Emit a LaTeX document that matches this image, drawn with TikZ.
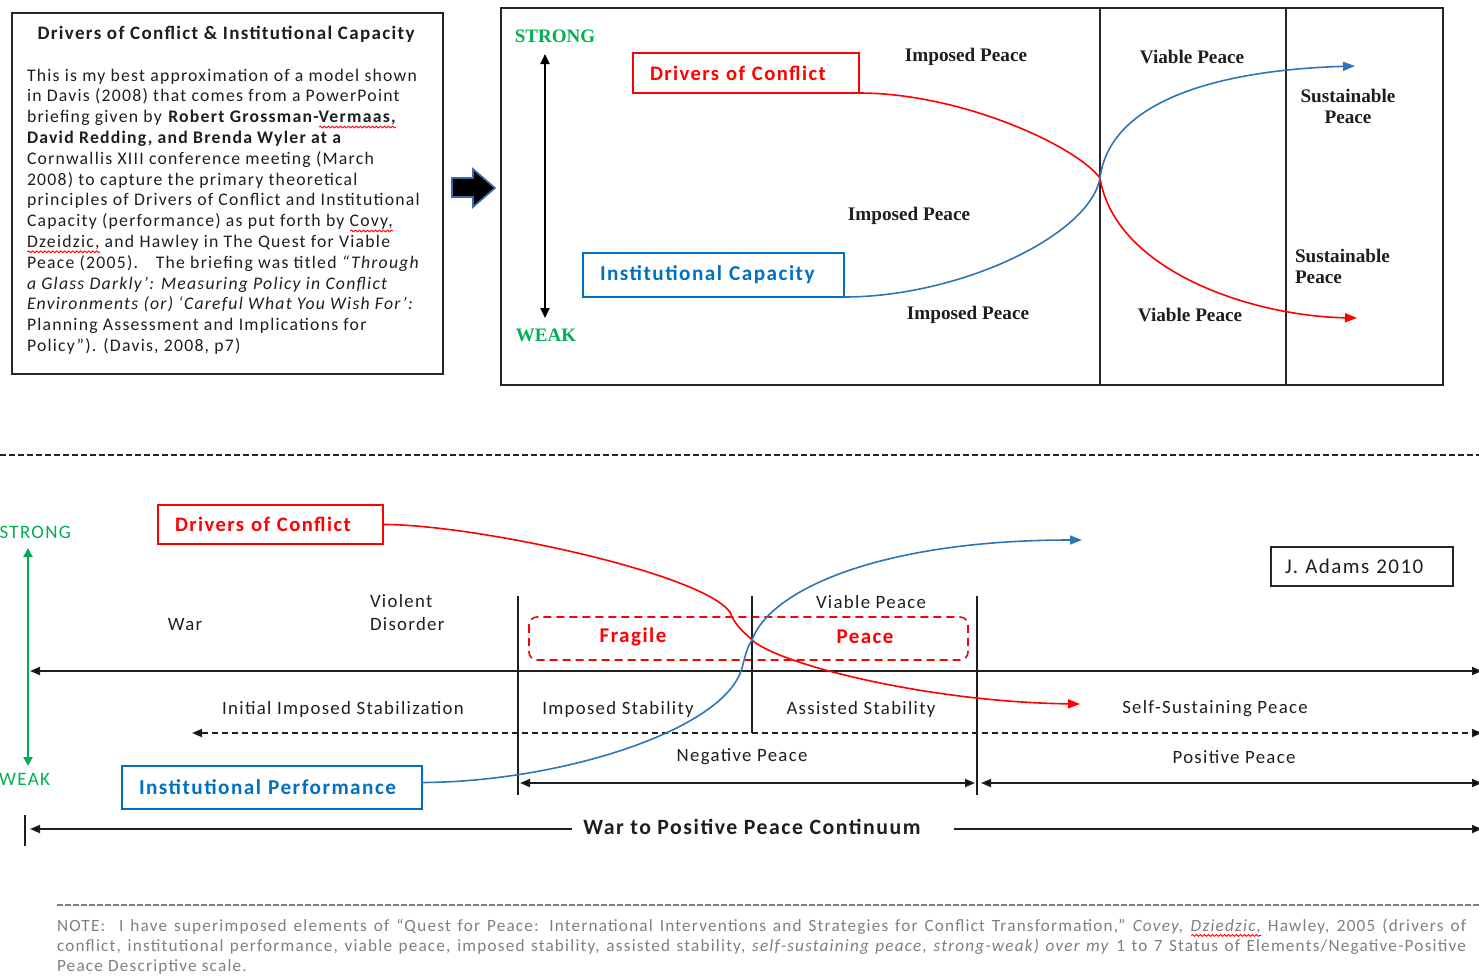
\documentclass[tikz,border=0pt]{standalone}
\usepackage{fontspec}
\setmainfont{Carlito}[LetterSpace=7]
\newfontfamily\tnr{Liberation Serif}
\usetikzlibrary{arrows.meta,decorations.pathmorphing}

\definecolor{rd}{HTML}{FF0000}
\definecolor{bl}{HTML}{0070C0}
\definecolor{blc}{HTML}{2E75B6}
\definecolor{gr}{HTML}{00B050}
\definecolor{ink}{HTML}{1E1E1E}
\definecolor{frame}{HTML}{262626}
\definecolor{notegray}{HTML}{7F7F7F}
\definecolor{arrowblue}{HTML}{3A6BB0}

% red wavy underline, as a spell checker marks a word
\newbox\spellbox
\newdimen\spellwd
\newcommand\spellmark[1]{\leavevmode\setbox\spellbox\hbox{#1}\spellwd=\wd\spellbox
  \rlap{\tikz[baseline=0pt]\draw[rd,line width=0.45pt,decorate,
    decoration={snake,amplitude=0.45pt,segment length=2pt}] (0pt,-2.2pt) -- (\spellwd,-2.2pt);}%
  \box\spellbox}

\begin{document}
\begin{tikzpicture}[x=0.5pt,y=-0.5pt,
  every node/.style={inner sep=0pt, outer sep=0pt},
  framed/.style={draw=frame, line width=1pt},
  lbl/.style={font=\fontsize{9.4}{11.5}\selectfont, text=ink},
  serif/.style={font=\tnr\bfseries\fontsize{9.6}{10.5}\selectfont, text=ink},
  keybox/.style={draw, line width=1pt, align=left, inner xsep=8.5pt, inner ysep=0pt,
    anchor=north west, font=\bfseries\fontsize{10.3}{12}\selectfont},
  redbox/.style={keybox, draw=rd, text=rd},
  bluebox/.style={keybox, draw=bl, text=bl, font=\bfseries\fontsize{10.6}{12}\selectfont},
  curve/.style={line width=0.8pt},
  tip/.style={-{Triangle[length=6pt,width=4.5pt]}},
  blk/.style={draw=ink, line width=0.9pt},
  tri/.tip={Triangle[length=5pt,width=4pt]},
  notetext/.style={anchor=base west, font=\fontsize{8.6}{10}\selectfont, text=notegray},
]
\useasboundingbox (0,0) rectangle (1479,976);

% ---------- explanatory text box ----------
\draw[framed] (12,13) rectangle (443,374);
\node[font=\bfseries\fontsize{9.5}{11}\selectfont, text=ink] (ltitle) at (226,34)
  {Drivers of Conflict \& Institutional Capacity};
\foreach \t [count=\i] in {
  {This is my best approximation of a model  shown},
  {in Davis (2008)  that comes  from  a PowerPoint},
  {briefing  given by  \textbf{Robert Grossman-\spellmark{Vermaas,}}},
  {\textbf{David Redding, and Brenda Wyler at a}},
  {Cornwallis XIII conference  meeting (March},
  {2008) to capture  the primary theoretical},
  {principles  of Drivers of Conflict  and Institutional},
  {Capacity (performance)  as put forth by \spellmark{Covy,}},
  {\spellmark{Dzeidzic,}  and Hawley in The Quest  for  Viable},
  {Peace (2005).\quad The briefing  was titled \textit{“Through}},
  {\textit{a Glass Darkly’: Measuring Policy in Conflict}},
  {\textit{Environments (or) ‘Careful  What  You Wish For’:}},
  {Planning Assessment  and Implications  for},
  {Policy”). (Davis, 2008, p7)}}
  \node[anchor=base west, font=\fontsize{8.85}{10}\selectfont, text=ink] (body\i)
    at (27,{81+20.8*(\i-1)}) {\t};

% ---------- block arrow ----------
\draw[fill=black, draw=arrowblue, line width=0.8pt]
  (452,178) -- (473,178) -- (473,169) -- (495,188) -- (473,207) -- (473,197) -- (452,197) -- cycle;

% ---------- upper model ----------
\draw[framed] (501,8) rectangle (1443,385);
\draw[framed] (1100,8) -- (1100,385);
\draw[framed] (1286,8) -- (1286,385);

\node[font=\tnr\bfseries\fontsize{9.5}{10}\selectfont, text=gr] (tstrong) at (555,36) {STRONG};
\node[font=\tnr\bfseries\fontsize{9.5}{10}\selectfont, text=gr] (tweak) at (546,335) {WEAK};
\draw[line width=0.9pt, {Triangle[length=5pt,width=4.5pt]}-{Triangle[length=5pt,width=4.5pt]}]
  (545,54) -- (545,318);

\node[redbox, minimum width=113pt, text width=96pt, minimum height=20pt] (tdoc) at (633,53)
  {Drivers of Conflict};
\node[bluebox, minimum width=130.5pt, text width=113.5pt, minimum height=22pt] (tic) at (583,253)
  {Institutional Capacity};

\node[serif] (tip1) at (966,57) {Imposed Peace};
\node[serif] (tvp1) at (1192,57) {Viable Peace};
\node[serif, align=center] (tsp1) at (1348,106) {Sustainable\\Peace};
\node[serif] (tip2) at (909,216) {Imposed Peace};
\node[serif, align=left, anchor=west] (tsp2) at (1295,266) {Sustainable\\Peace};
\node[serif] (tip3) at (968,315) {Imposed Peace};
\node[serif] (tvp2) at (1190,315) {Viable Peace};

\coordinate (tcross) at (1100,178);
\coordinate (tredEnd) at (1357,318);
\coordinate (tblueEnd) at (1355,66);
\draw[curve, rd, tip] (tdoc.south east) .. controls (960,93) and (1075,145) .. (tcross)
  .. controls (1115,270) and (1250,316) .. (tredEnd);
\draw[curve, blc, tip] (tic.south east) .. controls (960,297) and (1090,235) .. (tcross)
  .. controls (1110,100) and (1220,70) .. (tblueEnd);

% ---------- separator ----------
\draw[frame, line width=0.6pt, dash pattern=on 3pt off 1.5pt] (0,455) -- (1479,455);

% ---------- lower continuum ----------
\node[font=\fontsize{9.5}{10}\selectfont, text=gr, anchor=east] (bstrong) at (71,532) {STRONG};
\node[font=\fontsize{9.5}{10}\selectfont, text=gr, anchor=east] (bweak) at (50,779) {WEAK};
\draw[gr, line width=1pt, {Triangle[length=4.5pt,width=4.5pt]}-{Triangle[length=4.5pt,width=4.5pt]}]
  (28,548) -- (28,766);

\node[redbox, minimum width=112.5pt, text width=95.5pt, minimum height=19.5pt] (bdoc) at (158,505)
  {Drivers of Conflict};
\node[bluebox, minimum width=150pt, text width=133pt, minimum height=21.5pt] (bip) at (122,766)
  {Institutional Performance};
\node[draw=frame, line width=1pt, anchor=north west, minimum width=91pt, minimum height=19.5pt,
  text width=77pt, inner xsep=7pt, align=left, font=\fontsize{10.5}{12}\selectfont, text=ink]
  (adams) at (1271,547) {J. Adams 2010};

\node[lbl] (war) at (185,625) {War};
\node[lbl, align=left, anchor=west] (viol) at (370,613) {Violent\\Disorder};
\node[lbl] (viable) at (871,602) {Viable Peace};

\draw[rd, line width=0.8pt, rounded corners=4pt, dash pattern=on 4pt off 2.5pt]
  (529,617) rectangle (968,660);
\node[font=\bfseries\fontsize{10.5}{12}\selectfont, text=rd] (frag) at (633,637) {Fragile};
\node[font=\bfseries\fontsize{10.5}{12}\selectfont, text=rd] (fpeace) at (865,637) {Peace};

\draw[blk] (518,596) -- (518,795);
\draw[blk] (752,596) -- (752,733);
\draw[blk] (977,596) -- (977,795);

\draw[blk, tri-tri] (30,671) -- (1482,671);
\draw[blk, tri-tri, dash pattern=on 3pt off 2pt] (192,733) -- (1482,733);

\node[lbl] (iis) at (343,709) {Initial Imposed Stabilization};
\node[lbl] (ims) at (618,709) {Imposed Stability};
\node[lbl] (ass) at (861,709) {Assisted Stability};
\node[lbl] (ssp) at (1215,709) {Self-Sustaining Peace};
\node[lbl] (negp) at (742,757) {Negative Peace};
\node[lbl] (posp) at (1234,757) {Positive Peace};

\draw[blk, tri-tri] (520,783) -- (975,783);
\draw[blk, tri-tri] (981,783) -- (1482,783);

\node[font=\bfseries\fontsize{10.9}{12}\selectfont, text=ink] (cont) at (752,827)
  {War to Positive Peace Continuum};
\draw[blk] (25,815) -- (25,846);
\draw[blk, tri-] (30,829) -- ([xshift=-5.5pt]cont.west |- 0,829);
\draw[blk, -tri] ([xshift=16.5pt]cont.east |- 0,829) -- (1482,829);

\coordinate (bcross) at (752,640);
\coordinate (bredEnd) at (1080,704);
\coordinate (bblueEnd) at (1082,540);
\draw[curve, rd, tip] (bdoc.east) .. controls (470,524) and (700,572) .. (730,612)
  .. controls (735,626) and (745,633) .. (bcross)
  .. controls (780,665) and (930,702) .. (bredEnd);
\draw[curve, blc, tip] ([yshift=2.5pt]bip.east) .. controls (560,782) and (725,730) .. (742,668)
  .. controls (746,652) and (748,646) .. (bcross)
  .. controls (770,590) and (880,540) .. (bblueEnd);

% ---------- note ----------
\draw[notegray, line width=0.6pt, dash pattern=on 3pt off 1pt] (57,905) -- (1479,905);
\node[notetext] (note1) at (57,931)
  {\makebox[704.5pt][s]{NOTE:\ \ I have superimposed  elements of “Quest for Peace: International Interventions and Strategies for Conflict Transformation,” \textit{Covey, \spellmark{Dziedzic,}} Hawley, 2005 (drivers of}};
\node[notetext] (note2) at (57,951)
  {\makebox[704.5pt][s]{conflict, institutional performance, viable peace, imposed stability, assisted stability, \textit{self-sustaining peace, strong-weak) over my} 1 to 7 Status of Elements/Negative-Positive}};
\node[notetext] (note3) at (57,971)
  {Peace Descriptive scale.};
\end{tikzpicture}
\end{document}
